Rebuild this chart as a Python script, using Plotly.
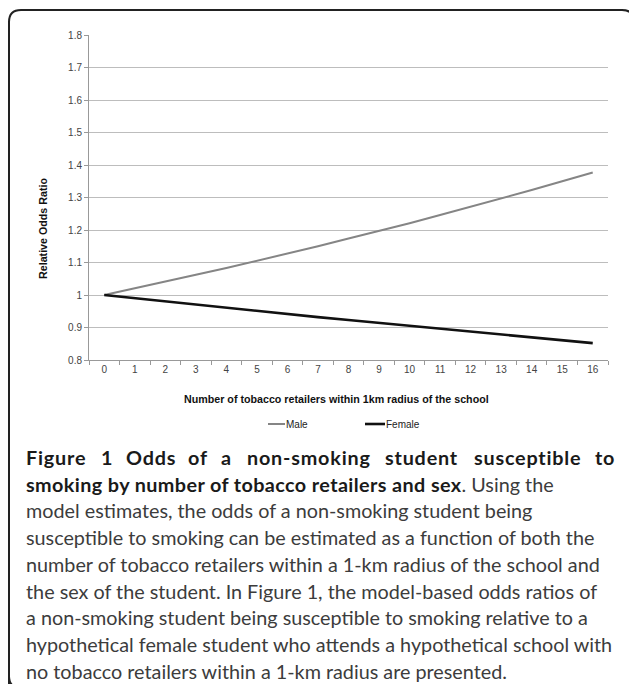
import plotly.graph_objects as go

# Number of tobacco retailers within 1 km of the school
retailers = list(range(17))
# Model-based relative odds ratios by sex
male_or = [1.000, 1.020, 1.041, 1.062, 1.083, 1.105, 1.128, 1.150, 1.174,
           1.197, 1.221, 1.246, 1.271, 1.297, 1.323, 1.350, 1.377]
female_or = [1.000, 0.990, 0.980, 0.970, 0.961, 0.951, 0.942, 0.932, 0.923,
             0.914, 0.905, 0.896, 0.887, 0.878, 0.869, 0.861, 0.852]
series_names = ["Male", "Female"]
y_ticks = [0.8, 0.9, 1, 1.1, 1.2, 1.3, 1.4, 1.5, 1.6, 1.7, 1.8]

W, H = 629, 684
L, R, T, B = 89, 608, 35, 360  # plot area in pixels


def px(x):
    return (x - L) / (R - L)


def py(y):
    return (B - y) / (B - T)


fig = go.Figure()
fig.add_trace(go.Scatter(x=[str(v) for v in retailers], y=male_or, mode="lines",
                         name=series_names[0], line=dict(color="#858585", width=2)))
fig.add_trace(go.Scatter(x=[str(v) for v in retailers], y=female_or, mode="lines",
                         name=series_names[1], line=dict(color="#111111", width=2.6)))

tick_font = dict(family="Liberation Sans, Arial, sans-serif", size=10, color="#444444")

fig.update_layout(
    width=W, height=H,
    margin=dict(l=L, r=W - R, t=T, b=H - B),
    paper_bgcolor="white", plot_bgcolor="white",
    showlegend=False,
    xaxis=dict(type="category", tickson="boundaries", ticks="outside", ticklen=4,
               tickcolor="#999999", showline=True, linecolor="#999999", linewidth=1,
               showgrid=False, tickfont=tick_font, range=[-0.5, 16.5]),
    yaxis=dict(range=[0.8, 1.8], tickvals=y_ticks, ticks="outside", ticklen=4,
               tickcolor="#999999", showline=True, linecolor="#999999", linewidth=1,
               showgrid=True, gridcolor="#bdbdbd", gridwidth=1, zeroline=False,
               tickfont=tick_font),
)

annotations = []
axis_font = dict(family="Liberation Sans, Arial, sans-serif", size=10.7, color="#111111")
annotations.append(dict(text="<b>Number of tobacco retailers within 1km radius of the school</b>",
                        x=px(336), y=py(399), xref="paper", yref="paper", showarrow=False,
                        xanchor="center", yanchor="middle", font=axis_font))
annotations.append(dict(text="<b>Relative Odds Ratio</b>", x=px(43), y=py(229),
                        xref="paper", yref="paper", showarrow=False, textangle=-90,
                        xanchor="center", yanchor="middle", font=axis_font))

# Legend drawn under the axis title
legend_items = [(series_names[0], "#858585", 2, 268, 285),
                (series_names[1], "#111111", 2.6, 365, 385)]
shapes = []
for name, color, width, x0, x1 in legend_items:
    shapes.append(dict(type="line", xref="paper", yref="paper", x0=px(x0), x1=px(x1),
                       y0=py(424), y1=py(424), line=dict(color=color, width=width)))
    annotations.append(dict(text=name, x=px(x1 - 1), y=py(424), xref="paper", yref="paper",
                            showarrow=False, xanchor="left", yanchor="middle",
                            font=dict(family="Liberation Sans, Arial, sans-serif", size=10,
                                      color="#222222")))

# Caption
cap_family = "Lato, Noto Sans, sans-serif"
cap_size = 19.8
title_color = "#1a1a1a"
body_color = "#3c3c3c"
line_y = [457, 483.7, 510.4, 537.1, 563.8, 590.5, 617.2, 643.9, 670.6]
left_x = 24

# First caption line is justified across the full text width
first_words = [("Figure", 27), ("1", 102), ("Odds", 127), ("of", 189), ("a", 222),
               ("non-smoking", 248), ("student", 386), ("susceptible", 475), ("to", 596)]
for word, wx in first_words:
    annotations.append(dict(text=f"<span style='letter-spacing:0.8px'><b>{word}</b></span>",
                            x=px(wx - 3), y=py(line_y[0]),
                            xref="paper", yref="paper", showarrow=False,
                            xanchor="left", yanchor="middle",
                            font=dict(family=cap_family, size=cap_size, color=title_color)))

body_lines = [
    f"<span style='color:{title_color};letter-spacing:0.4px'><b>smoking by number of tobacco retailers and sex</b></span>. Using the",
    "model estimates, the odds of a non-smoking student being",
    "susceptible to smoking can be estimated as a function of both the",
    "number of tobacco retailers within a 1-km radius of the school and",
    "the sex of the student. In Figure 1, the model-based odds ratios of",
    "a non-smoking student being susceptible to smoking relative to a",
    "hypothetical female student who attends a hypothetical school with",
    "no tobacco retailers within a 1-km radius are presented.",
]
for text, ly in zip(body_lines, line_y[1:]):
    annotations.append(dict(text=text, x=px(left_x), y=py(ly), xref="paper", yref="paper",
                            showarrow=False, xanchor="left", yanchor="middle",
                            font=dict(family=cap_family, size=cap_size, color=body_color)))

# Rounded frame around figure and caption (right and bottom edges run past the page)
fx0, fy0, fx1, fy1, r = 9, 10, 634, 688, 12
path = (f"M {px(fx0)},{py(fy1)} L {px(fx0)},{py(fy0 + r)} "
        f"Q {px(fx0)},{py(fy0)} {px(fx0 + r)},{py(fy0)} "
        f"L {px(fx1 - r)},{py(fy0)} Q {px(fx1)},{py(fy0)} {px(fx1)},{py(fy0 + r)} "
        f"L {px(fx1)},{py(fy1 - r)} Q {px(fx1)},{py(fy1)} {px(fx1 - r)},{py(fy1)} "
        f"L {px(fx0 + r)},{py(fy1)} Q {px(fx0)},{py(fy1)} {px(fx0)},{py(fy1 - r)} Z")
shapes.append(dict(type="path", xref="paper", yref="paper", path=path,
                   line=dict(color="#222222", width=2)))

fig.update_layout(annotations=annotations, shapes=shapes)
fig.write_html("out.html")
